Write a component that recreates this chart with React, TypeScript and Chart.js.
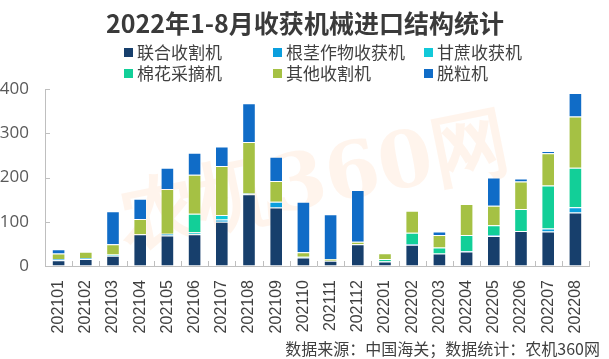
import React, { useEffect, useRef } from "react";
import { Chart, registerables } from "chart.js";

Chart.register(...registerables);

const categories = [
  "202101", "202102", "202103", "202104", "202105", "202106", "202107", "202108", "202109", "202110",
  "202111", "202112", "202201", "202202", "202203", "202204", "202205", "202206", "202207", "202208",
];
const combine = [13, 16, 23, 72, 69, 72, 100, 162, 132, 19, 12, 49, 10, 48, 28, 33, 68, 79, 78, 121];
const rootCrop = [3, 2, 0, 0, 4, 0, 5, 2, 13, 2, 0, 0, 1, 2, 0, 1, 2, 0, 7, 12];
const sugarcane = [0, 0, 3, 0, 0, 4, 10, 0, 0, 0, 0, 0, 0, 0, 0, 0, 0, 0, 0, 0];
const cotton = [0, 0, 0, 0, 0, 42, 0, 0, 0, 0, 0, 0, 5, 25, 14, 36, 22, 50, 97, 89];
const otherHarv = [12, 14, 23, 34, 101, 88, 111, 116, 47, 10, 4, 6, 13, 50, 28, 70, 44, 62, 73, 116];
const thresher = [10, 0, 75, 46, 48, 50, 44, 88, 55, 114, 101, 117, 0, 0, 8, 0, 64, 7, 5, 53];
const seriesNames = ["联合收割机", "根茎作物收获机", "甘蔗收获机", "棉花采摘机", "其他收割机", "脱粒机"];
const yTicks = [0, 100, 200, 300, 400];
const titleText = "2022年1-8月收获机械进口结构统计";
const footerText = "数据来源：中国海关；数据统计：农机360网";
const watermarkText = "农机360网";

const colors = ["#173f6c", "#0b9fde", "#12c9d9", "#12cf98", "#a5c144", "#106cc7"];
const FONT = '"Noto Sans CJK SC", "Noto Sans", sans-serif';

const overlay = {
  id: "overlay",
  beforeDatasetsDraw(chart: any) {
    const ctx = chart.ctx;
    ctx.save();
    ctx.translate(315, 185);
    ctx.rotate(-0.2);
    ctx.font = `bold 78px "DejaVu Serif", serif`;
    ctx.fillStyle = "rgba(255, 150, 70, 0.10)";
    ctx.textAlign = "center";
    ctx.textBaseline = "middle";
    ctx.fillText(watermarkText, 0, 0);
    ctx.restore();
  },
  afterDraw(chart: any) {
    const ctx = chart.ctx;
    const area = chart.chartArea;
    const xs = chart.scales.x;
    const ys = chart.scales.y;
    ctx.save();
    // inside tick marks
    ctx.strokeStyle = "#bfbfbf";
    ctx.lineWidth = 1;
    yTicks.forEach((v) => {
      const y = Math.round(ys.getPixelForValue(v)) + 0.5;
      ctx.beginPath();
      ctx.moveTo(area.left, y);
      ctx.lineTo(area.left + 5, y);
      ctx.stroke();
    });
    const step = (area.right - area.left) / categories.length;
    for (let i = 0; i <= categories.length; i++) {
      const x = Math.round(area.left + i * step) + 0.5;
      ctx.beginPath();
      ctx.moveTo(x, area.bottom);
      ctx.lineTo(x, area.bottom - 5);
      ctx.stroke();
    }
    // title
    ctx.fillStyle = "#3a3a3a";
    ctx.font = `bold 25px ${FONT}`;
    ctx.textAlign = "center";
    ctx.textBaseline = "middle";
    ctx.fillText(titleText, 305, 23);
    // legend
    const cols = [124, 273, 424];
    const rows = [53, 74];
    ctx.font = `17px ${FONT}`;
    ctx.textAlign = "left";
    seriesNames.forEach((name, i) => {
      const cx = cols[i % 3];
      const cy = rows[Math.floor(i / 3)];
      ctx.fillStyle = colors[i];
      ctx.fillRect(cx, cy - 5, 9, 9);
      ctx.fillStyle = "#404040";
      ctx.fillText(name, cx + 13, cy);
    });
    // footer
    ctx.font = `16px ${FONT}`;
    ctx.textAlign = "right";
    ctx.fillStyle = "#404040";
    ctx.fillText(footerText, 600, 349);
    ctx.restore();
  },
};

export default function App() {
  const ref = useRef<HTMLCanvasElement>(null);
  useEffect(() => {
    if (!ref.current) return;
    const data = [combine, rootCrop, sugarcane, cotton, otherHarv, thresher];
    const chart = new Chart(ref.current, {
      type: "bar",
      data: {
        labels: categories,
        datasets: data.map((d, i) => ({
          label: seriesNames[i],
          data: d,
          backgroundColor: colors[i],
          borderColor: "rgba(255,255,255,0.25)",
          borderWidth: 1,
          barPercentage: 0.5,
          categoryPercentage: 1,
        })),
      },
      options: {
        responsive: false,
        animation: false,
        layout: { padding: { top: 89, right: 16, left: 0, bottom: 0 } },
        plugins: { legend: { display: false }, title: { display: false }, tooltip: { enabled: false } },
        scales: {
          x: {
            stacked: true,
            grid: { display: true, drawOnChartArea: false, drawTicks: false },
            border: { display: true, color: "#bfbfbf", width: 1 },
            ticks: {
              minRotation: 90,
              maxRotation: 90,
              padding: 14,
              color: "#404040",
              font: { size: 16, family: '"Liberation Sans", Arial, sans-serif' },
              autoSkip: false,
            },
            afterFit: (s: any) => {
              s.height = 93;
            },
          },
          y: {
            stacked: true,
            min: 0,
            max: 400,
            grid: { display: true, drawOnChartArea: false, drawTicks: false },
            border: { display: true, color: "#bfbfbf", width: 1 },
            ticks: {
              stepSize: 100,
              padding: 16,
              color: "#595959",
              font: { size: 17, family: '"Open Sans", sans-serif' },
            },
            afterFit: (s: any) => {
              s.width = 45;
            },
          },
        },
      },
      plugins: [overlay],
    });
    return () => chart.destroy();
  }, []);
  return (
    <div style={{ position: "absolute", left: 0, top: 0, width: 609, height: 359, background: "#fff" }}>
      <canvas ref={ref} width={609} height={359} />
    </div>
  );
}
